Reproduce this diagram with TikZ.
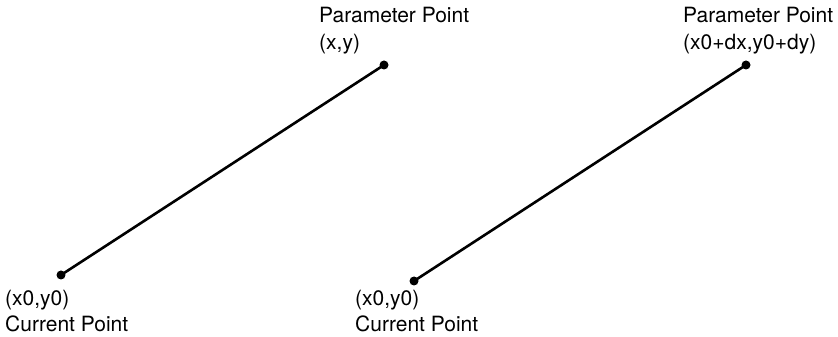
\documentclass[tikz,border=0pt]{standalone}
\usepackage{fontspec}
\setmainfont{TeX Gyre Heros}
\begin{document}
\begin{tikzpicture}[x=1pt, y=1pt,
    every node/.style={font=\fontsize{21}{26}\selectfont, inner sep=0pt},
    dot/.style={circle, fill, minimum size=9pt},
    lbl/.style={anchor=base west}]
    \useasboundingbox (0,0) rectangle (838,337);
    % left: line given by end point (x,y)
    \node[dot] (C1) at (61,62) {};
    \node[dot] (P1) at (384,272) {};
    \draw[line width=2.6pt] (C1.center) -- (P1.center);
    \node[lbl] (P1a) at (319,314) {Parameter Point};
    \node[lbl] (P1b) at ([yshift=-27pt]P1a.base west) {(x,y)};
    \node[lbl] (C1a) at (5,31) {(x0,y0)};
    \node[lbl] (C1b) at ([yshift=-26pt]C1a.base west) {Current Point};
    % right: line given by offset (dx,dy)
    \node[dot] (C2) at (414,56) {};
    \node[dot] (P2) at (746,272) {};
    \draw[line width=2.6pt] (C2.center) -- (P2.center);
    \node[lbl] (P2a) at (683,314) {Parameter Point};
    \node[lbl] (P2b) at ([yshift=-27pt]P2a.base west) {(x0+dx,y0+dy)};
    \node[lbl] (C2a) at (355,31) {(x0,y0)};
    \node[lbl] (C2b) at ([yshift=-26pt]C2a.base west) {Current Point};
\end{tikzpicture}
\end{document}
